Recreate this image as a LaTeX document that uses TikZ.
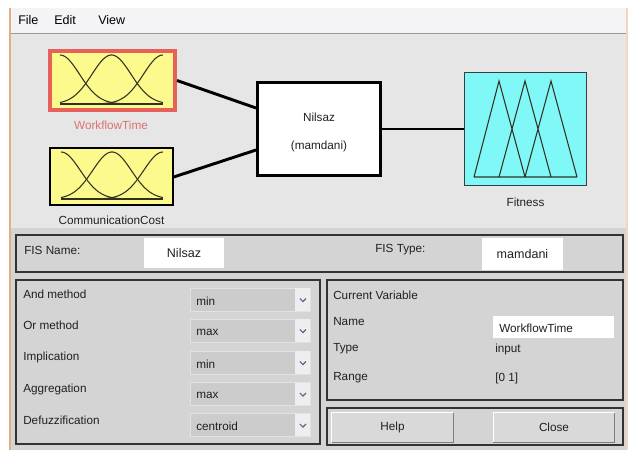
\documentclass[tikz,border=0pt]{standalone}
\usepackage{fontspec}
\setmainfont{Liberation Sans}
\usetikzlibrary{calc}

\definecolor{winbg}{RGB}{230,230,230}
\definecolor{menubg}{RGB}{244,244,246}
\definecolor{lowbg}{RGB}{212,212,212}
\definecolor{mfyellow}{RGB}{252,250,140}
\definecolor{mfcyan}{RGB}{128,248,248}
\definecolor{selred}{RGB}{232,96,90}
\definecolor{selredtxt}{RGB}{224,112,112}
\definecolor{curve}{RGB}{50,50,35}
\definecolor{txt}{RGB}{32,32,32}
\definecolor{dropfill}{RGB}{204,204,204}
\definecolor{dropedge}{RGB}{226,226,226}
\definecolor{arrowzone}{RGB}{238,238,238}
\definecolor{chev}{RGB}{80,105,150}
\definecolor{frame}{RGB}{224,176,128}

\begin{document}
\begin{tikzpicture}[x=0.75pt,y=-0.75pt,
  lbl/.style={inner sep=0pt,anchor=west,text=txt,font=\fontsize{8.8}{10}\selectfont},
  clbl/.style={inner sep=0pt,text=txt,font=\fontsize{8.8}{10}\selectfont},
  menutxt/.style={inner sep=0pt,anchor=west,text=black,font=\fontsize{9.4}{11}\selectfont},
  inbox/.style={draw=selred,line width=3pt,fill=mfyellow,inner sep=0pt,
    minimum width=93.75pt,minimum height=44.25pt},
  inbox2/.style={draw=black,line width=1pt,fill=mfyellow,inner sep=0pt,
    minimum width=92.25pt,minimum height=42.75pt},
  sysbox/.style={draw=black,line width=2.2pt,fill=white,inner sep=0pt,
    minimum width=92.25pt,minimum height=69.75pt},
  outbox/.style={draw=black!85!cyan,line width=1.1pt,fill=mfcyan,inner sep=0pt,
    minimum width=91.5pt,minimum height=84.75pt},
  wire/.style={line width=2.2pt,black},
  mf/.style={curve,line width=0.8pt},
  panel/.style={draw=black!80,line width=0.9pt,fill=lowbg},
  field/.style={fill=white,inner sep=0pt},
  dropbox/.style={draw=dropedge,line width=0.6pt,fill=dropfill,inner sep=0pt,
    minimum width=90pt,minimum height=17.25pt},
  button/.style={fill=black!15,inner sep=0pt,minimum width=90.75pt,minimum height=21.75pt,
    text=txt,font=\fontsize{8.8}{10}\selectfont}
]
% canvas and window frame
\fill[white] (0,0) rectangle (630,450);
\useasboundingbox (0,0) rectangle (630,450);
\fill[menubg] (10,8) rectangle (627,33);
\fill[winbg] (10,33) rectangle (627,228);
\fill[lowbg] (10,228) rectangle (627,450);
\draw[black!40,line width=0.8pt] (10,33.5) -- (627,33.5);
\draw[frame,line width=0.9pt] (10,8) -- (10,450);
\draw[frame!50,line width=0.9pt] (627,8) -- (627,450);

% menu
\node[menutxt] (mfile) at (18,20) {File};
\node[menutxt] (medit) at (54,20) {Edit};
\node[menutxt] (mview) at (98,20) {View};

% system diagram
\node[inbox] (wt) at (112.5,80.5) {};
\node[inbox2] (cc) at (111.5,176.5) {};
\node[sysbox] (sys) at (319,129) {};
\node[outbox] (fit) at (525.5,129) {};

% membership functions of the inputs
\foreach \c in {0,0.5,1}{
  \draw[mf] plot[domain=0:1,samples=70,smooth]
    ({60+103*\x},{104-49*exp(-((\x-\c)*(\x-\c))/(2*0.036))});
  \draw[mf] plot[domain=0:1,samples=70,smooth]
    ({61+102*\x},{199-47*exp(-((\x-\c)*(\x-\c))/(2*0.036))});
}
\draw[mf] (60,104) -- (163,104);
\draw[mf] (61,199) -- (163,199);

% membership functions of the output
\draw[mf,line join=miter] (474,177) -- (499,81) -- (525,177)
  (499,177) -- (525,81) -- (551,177)
  (525,177) -- (551,81) -- (577,177)
  (474,177) -- (577,177);

\node[inner sep=0pt,text=selredtxt,font=\fontsize{8.8}{10}\selectfont] (wtl) at (111,125.5) {WorkflowTime};
\node[clbl] (ccl) at (111.5,220) {CommunicationCost};
\node[clbl] (fitl) at (525.5,202) {Fitness};
\node[clbl] (sysn) at (319,117) {Nilsaz};
\node[clbl] (syst) at (319,146) {(mamdani)};

\draw[wire] (wt.east) -- ($(sys.west)+(0,-21)$);
\draw[wire] ($(cc.east)+(0,0.5)$) -- ($(sys.west)+(0,21)$);
\draw[wire] (sys.east) -- (fit.west);

% FIS name / type bar
\draw[panel] (16,235) rectangle (623,272);
\node[lbl] (fisn) at (24,250) {FIS Name:};
\node[field,minimum width=60pt,minimum height=22.5pt,font=\fontsize{9.4}{11}\selectfont,text=txt] (fisnv) at (184,253) {Nilsaz};
\node[lbl] (fist) at (375,250) {FIS Type:};
\node[field,minimum width=60.75pt,minimum height=24pt,font=\fontsize{9.4}{11}\selectfont,text=txt] (fistv) at (522.5,254) {mamdani};

% method panel
\draw[panel] (16,280) rectangle (320,444);
\foreach \i/\yc/\lab/\val in {1/299.5/And method/min,2/330.5/Or method/max,
    3/362.5/Implication/min,4/394/Aggregation/max,5/425/Defuzzification/centroid}{
  \node[lbl] (lab\i) at (23,\yc-5) {\lab};
  \node[dropbox] (dd\i) at (250,\yc) {};
  \fill[arrowzone] ($(dd\i.north east)+(-15,0.5)$) rectangle ($(dd\i.south east)+(-0.5,-0.5)$);
  \draw[chev,line width=0.9pt] ($(dd\i.east)+(-10.5,-1)$) -- ++(3,3) -- ++(3,-3);
  \node[lbl] (val\i) at (196,\yc+1.5) {\val};
}

% current variable panel
\draw[panel] (327,280) rectangle (623,400);
\node[lbl] (cvar) at (333,295) {Current Variable};
\node[lbl] (cname) at (333,322) {Name};
\node[field,minimum width=90.75pt,minimum height=16.5pt] (cnamev) at (553.5,327) {};
\node[lbl] (cnamet) at (499,328) {WorkflowTime};
\node[lbl] (ctype) at (333,349) {Type};
\node[lbl] (ctypev) at (495,349) {input};
\node[lbl] (crange) at (333,378) {Range};
\node[lbl] (crangev) at (495,378) {[0 1]};

% button panel
\draw[panel] (327,408) rectangle (623,445);
\node[button] (help) at (392.5,427.5) {Help};
\node[button] (close) at (554,427.5) {Close};
\foreach \b in {help,close}{
  \draw[white,line width=1pt] (\b.south west) -- (\b.north west) -- (\b.north east);
  \draw[black!50,line width=1pt] (\b.north east) -- (\b.south east) -- (\b.south west);
}
\end{tikzpicture}
\end{document}
